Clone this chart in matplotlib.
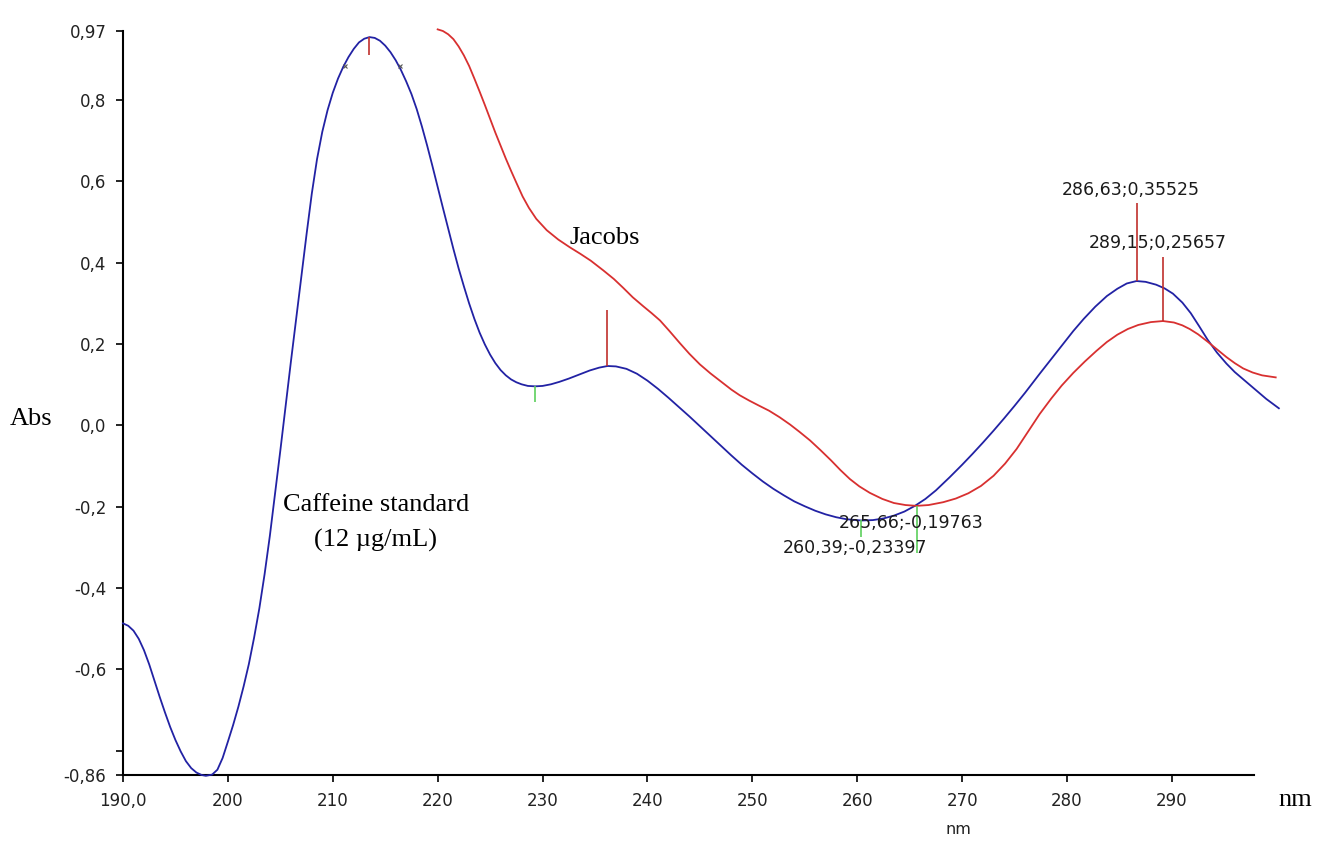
import matplotlib
matplotlib.use("Agg")
import matplotlib.pyplot as plt

# UV spectra: caffeine standard (blue) and Jacobs sample (red)
caffeine_nm = [190.0, 190.5, 191.0, 191.5, 192.0, 192.5, 193.0, 193.5, 194.0, 194.5,
               195.0, 195.5, 196.0, 196.5, 197.0, 197.5, 197.9, 198.5, 199.0, 199.5,
               200.0, 200.5, 201.0, 201.5, 202.0, 202.5, 203.0, 203.5, 204.0, 204.5,
               205.0, 206.0, 207.0, 207.5, 208.0, 208.5, 209.0, 209.5, 210.0, 210.5,
               211.0, 211.5, 212.0, 212.5, 213.0, 213.5, 214.0, 214.5, 215.0, 215.5,
               216.0, 216.5, 217.0, 217.5, 218.0, 218.5, 219.0, 219.5, 220.0, 220.5,
               221.0, 221.5, 222.0, 222.5, 223.0, 223.5, 224.0, 224.5, 225.0, 225.5,
               226.0, 226.5, 227.0, 227.5, 228.0, 228.6, 229.3, 230.0, 230.8, 231.6,
               232.5, 233.5, 234.5, 235.4, 236.2, 237.0, 238.0, 239.0, 240.0, 241.0,
               242.0, 243.0, 244.0, 245.0, 246.0, 247.0, 248.0, 249.0, 250.0, 251.0,
               252.0, 253.0, 254.0, 255.0, 256.0, 257.0, 258.0, 259.0, 260.39, 261.5,
               262.5, 263.5, 264.5, 265.5, 266.5, 267.5, 268.8, 270.0, 271.0, 272.0,
               273.0, 274.0, 275.0, 276.0, 277.4, 278.5, 279.5, 280.6, 281.6, 282.7,
               283.8, 284.8, 285.7, 286.63, 287.5, 288.5, 289.3, 290.1, 291.0, 291.8,
               292.6, 293.4, 294.3, 295.2, 296.0, 297.0, 298.0, 299.0, 300.2]
caffeine_abs = [-0.487, -0.493, -0.505, -0.525, -0.553, -0.588, -0.628, -0.668, -0.706, -0.742,
                -0.774, -0.802, -0.826, -0.843, -0.854, -0.860, -0.862, -0.859, -0.847, -0.818,
                -0.778, -0.737, -0.692, -0.642, -0.587, -0.522, -0.450, -0.366, -0.272, -0.168,
                -0.062, 0.155, 0.365, 0.470, 0.570, 0.655, 0.722, 0.775, 0.818, 0.853,
                0.882, 0.906, 0.926, 0.942, 0.951, 0.955, 0.953, 0.946, 0.934, 0.918,
                0.898, 0.874, 0.846, 0.815, 0.778, 0.735, 0.688, 0.638, 0.586, 0.535,
                0.484, 0.434, 0.386, 0.342, 0.300, 0.262, 0.228, 0.199, 0.174, 0.153,
                0.136, 0.123, 0.113, 0.106, 0.101, 0.097, 0.096, 0.097, 0.101, 0.107,
                0.115, 0.125, 0.135, 0.142, 0.146, 0.145, 0.139, 0.127, 0.110, 0.090,
                0.068, 0.045, 0.022, -0.002, -0.026, -0.050, -0.074, -0.097, -0.118, -0.138,
                -0.156, -0.172, -0.187, -0.199, -0.210, -0.219, -0.226, -0.231, -0.234, -0.233,
                -0.229, -0.222, -0.212, -0.198, -0.181, -0.160, -0.128, -0.097, -0.070, -0.042,
                -0.013, 0.017, 0.048, 0.080, 0.127, 0.163, 0.196, 0.232, 0.262, 0.292,
                0.318, 0.336, 0.349, 0.355, 0.353, 0.346, 0.337, 0.324, 0.302, 0.276,
                0.244, 0.211, 0.179, 0.152, 0.131, 0.109, 0.087, 0.065, 0.042]

jacobs_nm = [220.0, 220.5, 221.0, 221.5, 222.0, 222.5, 223.0, 223.5, 224.0, 224.5,
             225.0, 225.5, 226.0, 226.5, 227.0, 227.5, 228.1, 228.7, 229.4, 230.4,
             231.5, 232.6, 233.6, 234.6, 235.8, 236.8, 237.7, 238.6, 239.6, 240.4,
             241.2, 242.1, 243.1, 244.0, 245.0, 246.0, 247.0, 248.0, 248.8, 249.7,
             250.6, 251.6, 252.6, 253.6, 254.5, 255.5, 256.5, 257.5, 258.4, 259.3,
             260.2, 261.2, 262.4, 263.5, 264.6, 265.66, 266.8, 268.2, 269.4, 270.6,
             271.8, 273.0, 274.1, 275.2, 276.3, 277.4, 278.5, 279.5, 280.6, 281.7,
             282.8, 283.8, 284.8, 285.8, 286.8, 288.0, 289.15, 290.2, 291.0, 291.7,
             292.5, 293.4, 294.3, 295.2, 296.0, 296.8, 297.7, 298.6, 299.9]
jacobs_abs = [0.974, 0.970, 0.962, 0.950, 0.932, 0.910, 0.884, 0.853, 0.821, 0.788,
              0.754, 0.720, 0.688, 0.656, 0.626, 0.597, 0.563, 0.535, 0.508, 0.480,
              0.457, 0.438, 0.422, 0.405, 0.381, 0.360, 0.338, 0.315, 0.293, 0.276,
              0.258, 0.232, 0.202, 0.176, 0.150, 0.128, 0.108, 0.088, 0.074, 0.061,
              0.049, 0.036, 0.020, 0.002, -0.016, -0.037, -0.061, -0.086, -0.110, -0.132,
              -0.150, -0.166, -0.181, -0.191, -0.196, -0.198, -0.196, -0.189, -0.180, -0.167,
              -0.149, -0.124, -0.094, -0.058, -0.015, 0.028, 0.066, 0.098, 0.129, 0.157,
              0.183, 0.205, 0.223, 0.237, 0.247, 0.254, 0.2566, 0.253, 0.246, 0.237,
              0.224, 0.206, 0.187, 0.168, 0.153, 0.140, 0.130, 0.123, 0.118]

# peak picks (red, up/down) and valley picks (green)
peak_x = [213.5, 236.1, 286.63, 289.15]
peak_y0 = [0.955, 0.146, 0.35525, 0.25657]
peak_y1 = [0.91, 0.283, 0.546, 0.413]
valley_x = [229.3, 260.39, 265.66]
valley_y0 = [0.096, -0.23397, -0.19763]
valley_y1 = [0.057, -0.275, -0.315]

pick_labels = ["286,63;0,35525", "289,15;0,25657", "265,66;-0,19763", "260,39;-0,23397"]
pick_label_x = [279.5, 282.1, 258.2, 252.9]
pick_label_y = [0.578, 0.448, -0.239, -0.302]

x_ticks = [190, 200, 210, 220, 230, 240, 250, 260, 270, 280, 290]
x_labels = ["190,0", "200", "210", "220", "230", "240", "250", "260", "270", "280", "290"]
y_ticks = [0.97, 0.8, 0.6, 0.4, 0.2, 0.0, -0.2, -0.4, -0.6, -0.8, -0.86]
y_labels = ["0,97", "0,8", "0,6", "0,4", "0,2", "0,0", "-0,2", "-0,4", "-0,6", "", "-0,86"]

BLUE = "#2222a4"
RED = "#d83030"
PICK_RED = "#c0302c"
GREEN = "#5ccf5c"
SERIF = "Liberation Serif"

fig = plt.figure(figsize=(13.29, 8.43), dpi=100)
ax = fig.add_axes([123 / 1329, 1 - 775 / 843, (1282 - 123) / 1329, (775 - 31) / 843])

ax.plot(caffeine_nm, caffeine_abs, color=BLUE, lw=1.3, clip_on=False, zorder=3,
        solid_joinstyle="round")
ax.plot(jacobs_nm, jacobs_abs, color=RED, lw=1.3, clip_on=False, zorder=3,
        solid_joinstyle="round")
ax.vlines(peak_x, peak_y0, peak_y1, color=PICK_RED, lw=1.2, zorder=4)
ax.vlines(valley_x, valley_y0, valley_y1, color=GREEN, lw=1.2, zorder=4)

# little half-height marks either side of the main peak
ax.plot([211.2, 216.4], [0.885, 0.885], ls="none", marker="x", ms=3, mew=0.8,
        color="#555555", zorder=4)

for txt, tx, ty in zip(pick_labels, pick_label_x, pick_label_y):
    ax.text(tx, ty, txt, fontsize=12.5, color="#1a1a1a", ha="left", va="center", zorder=5)

ax.text(235.9, 0.462, "Jacobs", fontsize=19, family=SERIF, ha="center", va="center")
ax.text(214.1, -0.197, "Caffeine standard", fontsize=19, family=SERIF, ha="center", va="center")
ax.text(214.1, -0.283, "(12 µg/mL)", fontsize=19, family=SERIF, ha="center", va="center")

ax.set_xlim(190, 300.5)
ax.set_ylim(-0.86, 0.97)
ax.set_xticks(x_ticks, x_labels)
ax.set_yticks(y_ticks, y_labels)
ax.tick_params(axis="both", direction="out", length=5, width=1.2, labelsize=12,
               labelcolor="#222222", pad=7)

for side in ["top", "right"]:
    ax.spines[side].set_visible(False)
ax.spines["left"].set_linewidth(1.5)
ax.spines["bottom"].set_linewidth(1.5)
ax.spines["left"].set_bounds(-0.86, 0.97)
ax.spines["bottom"].set_bounds(190, 297.8)

fig.text(31 / 1329, 1 - 419 / 843, "Abs", fontsize=19, family=SERIF, ha="center", va="center")
fig.text(1295 / 1329, 1 - 800 / 843, "nm", fontsize=19, family=SERIF, ha="center", va="center")
fig.text(958 / 1329, 1 - 830 / 843, "nm", fontsize=11.5, color="#222222", ha="center", va="center")

fig.savefig("out.png", dpi=100, facecolor="white")
